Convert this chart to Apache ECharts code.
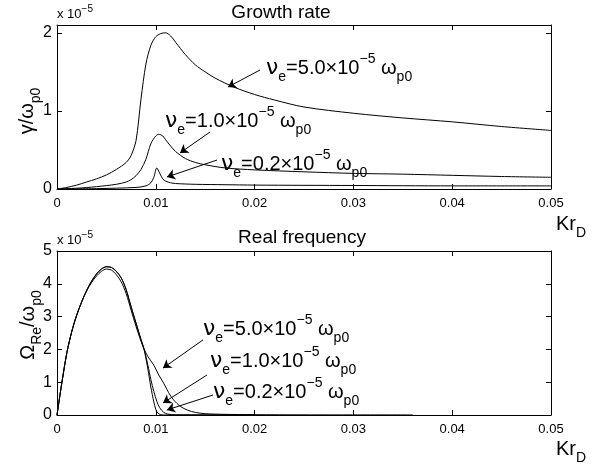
<!DOCTYPE html>
<html>
<head>
<meta charset="utf-8">
<script src="https://cdn.jsdelivr.net/npm/echarts/dist/echarts.min.js"></script>
<style>
  html, body { margin: 0; padding: 0; background: #fff; }
  #chart { width: 602px; height: 468px; }
</style>
</head>
<body>
<div id="chart"></div>
<script>
// ---- growth rate, gamma / omega_p0 (x 1e-5) ----
const growthKr50 = [0, 0.001, 0.002, 0.003, 0.004, 0.005, 0.006, 0.007, 0.0075, 0.008, 0.0085, 0.009, 0.0095, 0.010, 0.0105, 0.011, 0.0115, 0.012, 0.013, 0.014, 0.015, 0.016, 0.018, 0.020, 0.022, 0.025, 0.030, 0.035, 0.040, 0.045, 0.050];
const growth50   = [0, 0.02, 0.05, 0.09, 0.13, 0.18, 0.25, 0.34, 0.43, 0.62, 1.15, 1.60, 1.84, 1.95, 1.99, 2.00, 1.96, 1.88, 1.72, 1.59, 1.50, 1.42, 1.30, 1.21, 1.14, 1.05, 0.97, 0.91, 0.86, 0.80, 0.75];

const growthKr10 = [0, 0.002, 0.004, 0.006, 0.007, 0.0075, 0.008, 0.0085, 0.009, 0.0095, 0.010, 0.0103, 0.0107, 0.011, 0.0115, 0.012, 0.013, 0.014, 0.015, 0.017, 0.020, 0.025, 0.030, 0.035, 0.040, 0.045, 0.050];
const growth10   = [0, 0.01, 0.03, 0.06, 0.09, 0.12, 0.17, 0.25, 0.38, 0.58, 0.68, 0.70, 0.68, 0.63, 0.55, 0.48, 0.39, 0.34, 0.31, 0.27, 0.245, 0.22, 0.20, 0.19, 0.175, 0.16, 0.15];

const growthKr02 = [0, 0.004, 0.008, 0.009, 0.0095, 0.0098, 0.0101, 0.0104, 0.0107, 0.011, 0.0115, 0.012, 0.014, 0.017, 0.020, 0.030, 0.040, 0.050];
const growth02   = [0, 0.005, 0.02, 0.04, 0.08, 0.15, 0.27, 0.20, 0.13, 0.10, 0.08, 0.07, 0.06, 0.055, 0.05, 0.045, 0.04, 0.04];

// ---- real frequency, Omega_Re / omega_p0 (x 1e-5) ----
const freqKrRise = [0, 0.0005, 0.001, 0.0015, 0.002, 0.0025, 0.003, 0.0035, 0.004, 0.0045, 0.005, 0.0055, 0.006, 0.0065, 0.007, 0.0075, 0.008, 0.0085, 0.0088];
const freqRiseLowNu = [0, 1.0, 1.9, 2.55, 3.05, 3.45, 3.8, 4.08, 4.3, 4.45, 4.52, 4.5, 4.38, 4.18, 3.82, 3.3, 2.8, 2.3, 2.02];
const freqRise50    = [0, 1.0, 1.9, 2.55, 3.05, 3.45, 3.78, 4.04, 4.24, 4.38, 4.45, 4.42, 4.28, 4.06, 3.7, 3.2, 2.7, 2.25, 2.02];

const freqKrTail50 = [0.0092, 0.0098, 0.0103, 0.0108, 0.0113, 0.0118, 0.0125, 0.0132, 0.014, 0.015, 0.017, 0.020, 0.025, 0.036];
const freqTail50   = [1.78, 1.52, 1.22, 0.97, 0.68, 0.46, 0.26, 0.15, 0.08, 0.04, 0.02, 0.01, 0.005, 0.003];
const freqKrTail10 = [0.0092, 0.0095, 0.0098, 0.0101, 0.0104, 0.0108, 0.0112, 0.012, 0.020];
const freqTail10   = [1.52, 1.08, 0.72, 0.42, 0.22, 0.08, 0.03, 0.005, 0];
const freqKrTail02 = [0.0092, 0.0095, 0.0098, 0.0100, 0.0102, 0.0105, 0.011, 0.020];
const freqTail02   = [1.4, 0.85, 0.4, 0.17, 0.06, 0.01, 0, 0];

const xTicks = [0, 0.01, 0.02, 0.03, 0.04, 0.05];

const FONT = '"Liberation Sans", Arial, Helvetica, sans-serif';
const pairs = (xs, ys) => xs.map((x, i) => [x, ys[i]]);

const rich = {
    nu: { fontSize: 22, fontFamily: 'DejaVu Sans', lineHeight: 32, verticalAlign: 'middle', fill: '#000', color: '#000' },
    t: { fontSize: 20, fontFamily: FONT, lineHeight: 32, verticalAlign: 'middle', fill: '#000', color: '#000' },
    sub: { fontSize: 14, fontFamily: FONT, lineHeight: 14, verticalAlign: 'bottom', fill: '#000', color: '#000' },
    sup: { fontSize: 14, fontFamily: FONT, lineHeight: 14, verticalAlign: 'top', fill: '#000', color: '#000' },
    st: { fontSize: 13, fontFamily: FONT, lineHeight: 20, verticalAlign: 'middle', fill: '#000' },
    ss: { fontSize: 10, fontFamily: FONT, lineHeight: 10, verticalAlign: 'top', fill: '#000' }
};

const nuText = v => `{nu|ν}{sub|e}{t|=${v}×10}{sup|−5}{t| ω}{sub|p0}`;

function textEl(x, y, text, opts = {}) {
    return {
        type: 'text', x: x, y: y, rotation: opts.rotation || 0, silent: true,
        style: {
            text: text, rich: rich, fill: '#000',
            font: `${opts.size || 20}px ${FONT}`,
            align: opts.align || 'left', verticalAlign: 'middle'
        }
    };
}

function arrowLine(list) {
    return {
        silent: true, animation: false,
        symbol: ['none', 'arrow'], symbolSize: 8,
        label: { show: false },
        lineStyle: { color: '#000', width: 1, type: 'solid' },
        emphasis: { disabled: true },
        data: list.map(a => [{ coord: [a[0], a[1]] }, { coord: [a[2], a[3]] }])
    };
}

const krLabel = v => (v === 0 ? '0' : String(+v.toFixed(2)));
const intLabel = v => (Math.abs(v - Math.round(v)) < 1e-9 ? String(Math.round(v)) : '');

function xPair(grid) {
    const base = {
        type: 'value', gridIndex: grid, min: 0, max: 0.05, interval: 0.01,
        splitLine: { show: false },
        axisLine: { show: true, onZero: false, lineStyle: { color: '#000', width: 1 } },
        axisTick: { show: true, inside: true, length: 5, lineStyle: { color: '#000' } }
    };
    return [
        Object.assign({}, base, { position: 'bottom', axisLabel: { formatter: krLabel, fontSize: 13, fontFamily: FONT, color: '#000', margin: 8 } }),
        Object.assign({}, base, { position: 'top', axisLabel: { show: false } })
    ];
}

function yPair(grid, max) {
    const base = {
        type: 'value', gridIndex: grid, min: 0, max: max, interval: 1,
        splitLine: { show: false },
        axisLine: { show: true, onZero: false, lineStyle: { color: '#000', width: 1 } },
        axisTick: { show: true, inside: true, length: 5, lineStyle: { color: '#000' } }
    };
    return [
        Object.assign({}, base, { position: 'left', axisLabel: { formatter: intLabel, fontSize: 16, fontFamily: FONT, color: '#000', margin: 5 } }),
        Object.assign({}, base, { position: 'right', axisLabel: { show: false } })
    ];
}

function lineSeries(data, xi, yi, arrows) {
    const s = {
        type: 'line', xAxisIndex: xi, yAxisIndex: yi, data: data,
        showSymbol: false, symbol: 'none', smooth: 0.3, animation: false, silent: true,
        lineStyle: { color: '#000', width: 1 }
    };
    if (arrows) s.markLine = arrowLine(arrows);
    return s;
}

const chart = echarts.init(document.getElementById('chart'), null, { renderer: 'canvas' });

chart.setOption({
    backgroundColor: '#fff',
    animation: false,
    grid: [
        { left: 57, right: 51, top: 25, height: 164, outerBoundsMode: 'none' },
        { left: 57, right: 51, top: 251, height: 164, outerBoundsMode: 'none' }
    ],
    xAxis: xPair(0).concat(xPair(1)),
    yAxis: yPair(0, 2.1).concat(yPair(1, 5)),
    series: [
        lineSeries(pairs(growthKr50, growth50), 0, 0, [[0.02055, 1.524, 0.01731, 1.306]]),
        lineSeries(pairs(growthKr10, growth10), 0, 0, [[0.01549, 0.73, 0.01245, 0.461]]),
        lineSeries(pairs(growthKr02, growth02), 0, 0, [[0.0162, 0.371, 0.01113, 0.154]]),
        lineSeries(pairs(freqKrRise, freqRise50).concat(pairs(freqKrTail50, freqTail50)), 2, 2, [[0.01478, 2.29, 0.01073, 1.43]]),
        lineSeries(pairs(freqKrRise, freqRiseLowNu).concat(pairs(freqKrTail10, freqTail10)), 2, 2, [[0.01518, 1.22, 0.01073, 0.366]]),
        lineSeries(pairs(freqKrRise, freqRiseLowNu).concat(pairs(freqKrTail02, freqTail02)), 2, 2, [[0.01579, 0.61, 0.01113, 0.152]])
    ],
    graphic: [
        textEl(281, 13, 'Growth rate', { size: 19, align: 'center' }),
        textEl(302, 238, 'Real frequency', { size: 19, align: 'center' }),
        textEl(57, 14, '{st|x 10}{ss|−5}', { size: 13 }),
        textEl(57, 240, '{st|x 10}{ss|−5}', { size: 13 }),
        textEl(27, 111, '{t|γ/ω}{sub|p0}', { align: 'center', rotation: Math.PI / 2 }),
        textEl(28, 325, '{t|Ω}{sub|Re}{t|/ω}{sub|p0}', { align: 'center', rotation: Math.PI / 2 }),
        textEl(556, 224, '{t|Kr}{sub|D}'),
        textEl(556, 449, '{t|Kr}{sub|D}'),
        textEl(266, 68, nuText('5.0')),
        textEl(165, 121, nuText('1.0')),
        textEl(221, 164, nuText('0.2')),
        textEl(203, 329, nuText('5.0')),
        textEl(210, 361, nuText('1.0')),
        textEl(213, 392, nuText('0.2'))
    ]
});
</script>
</body>
</html>
